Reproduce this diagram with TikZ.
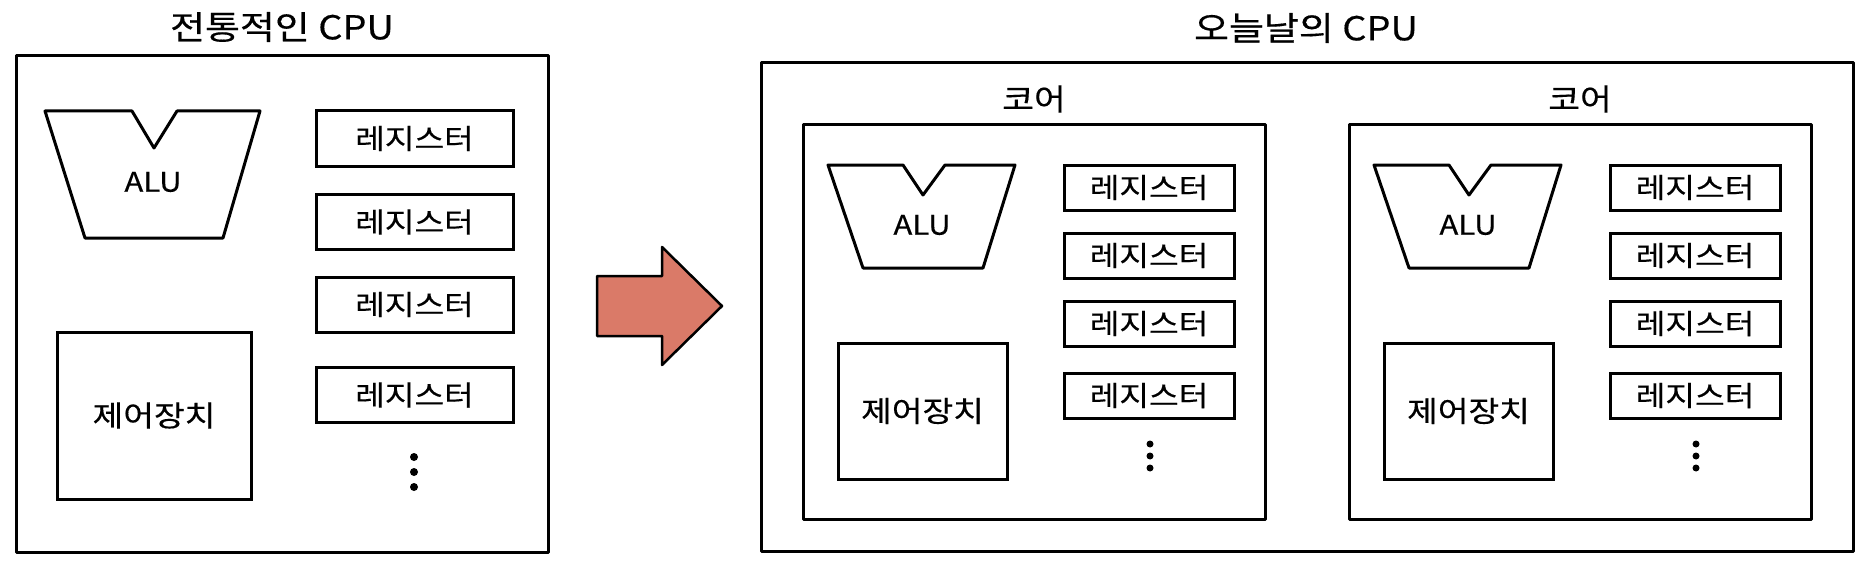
\documentclass[tikz,border=0pt]{standalone}
\usepackage{fontspec}
\setmainfont[FakeStretch=1.15, FakeBold=0.4]{Noto Sans CJK KR}
\definecolor{arrowc}{HTML}{DA7A68}
\begin{document}
\begin{tikzpicture}[x=1pt,y=-1pt,
  box/.style={draw=black, line width=3pt, line join=round},
  reg/.style={draw=black, line width=3pt, rectangle, inner sep=0pt, font=\fontsize{28}{30}\selectfont},
  lbl/.style={inner sep=0pt, font=\fontsize{27}{30}\selectfont},
  cutxt/.style={font=\fontsize{29}{31}\selectfont},
  corelbl/.style={inner sep=0pt, font=\fontsize{30}{32}\selectfont},
  ttl/.style={inner sep=0pt, font=\fontsize{33}{36}\selectfont},
  dotc/.style={fill=black}]
\useasboundingbox (0,0) rectangle (1867,567);
\fill[white] (0,0) rectangle (1867,567);

% ---------- left: traditional CPU ----------
\node[ttl] (t1) at (282,27) {전통적인 CPU};
\draw[box] (16,56) rectangle (548,552);
\draw[box] (45,111) -- (132,111) -- (154,148) -- (177,111) -- (260,111) -- (223,238) -- (85,238) -- cycle;
\node[lbl] (alu0) at (153,182) {ALU};
\foreach \y/\k in {138.5/1,222/2,304.5/3,395/4}{
  \node[reg, minimum width=197pt, minimum height=55pt] (r0\k) at (414.5,\y) {레지스터};
}
\node[reg, cutxt, minimum width=194pt, minimum height=167pt] (cu0) at (154,415.5) {제어장치};
\foreach \y in {457,472,487}{ \fill[dotc] (414,\y) circle (4pt); }

% ---------- arrow ----------
\draw[line width=2.5pt, fill=arrowc, line join=round] (597,276) -- (662,276) -- (662,247) -- (722,306) -- (662,365) -- (662,336) -- (597,336) -- cycle;

% ---------- right: modern CPU ----------
\node[ttl] (t2) at (1306,28) {오늘날의 CPU};
\draw[box] (761,63) rectangle (1853,551);
\foreach \L/\i in {803/1,1349/2}{
  \begin{scope}[shift={(\L,0)}]
    \node[corelbl] (core\i) at (231,99) {코어};
    \draw[box] (0,125) rectangle (462,519);
    \draw[box] (25,165) -- (100,165) -- (120,195) -- (142,165) -- (212,165) -- (180,268) -- (60,268) -- cycle;
    \node[lbl] (alu\i) at (119,225) {ALU};
    \foreach \y/\k in {187.5/1,255.5/2,323.5/3,395.5/4}{
      \node[reg, minimum width=170pt, minimum height=45pt] (r\i\k) at (346,\y) {레지스터};
    }
    \node[reg, cutxt, minimum width=169pt, minimum height=136pt] (cu\i) at (119.5,411) {제어장치};
    \foreach \y in {444,456,468}{ \fill[dotc] (347,\y) circle (3.5pt); }
  \end{scope}
}
\end{tikzpicture}
\end{document}
